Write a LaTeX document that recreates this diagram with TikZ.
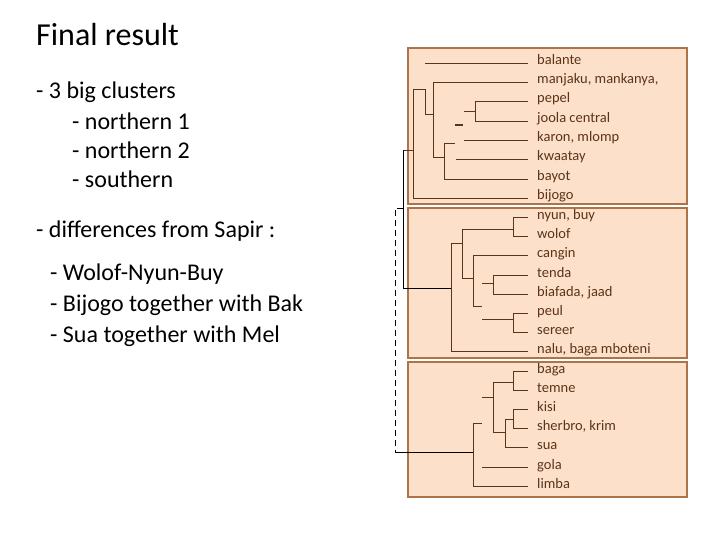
\documentclass[tikz,border=0pt]{standalone}
\usepackage{fontspec}
\setmainfont{Carlito}
\usetikzlibrary{positioning}
\definecolor{boxfill}{RGB}{252,224,202}
\definecolor{boxdraw}{RGB}{172,116,72}
\definecolor{treeink}{RGB}{92,52,24}
\begin{document}
\begin{tikzpicture}[x=1pt, y=-1pt,
    cluster/.style={draw=boxdraw, line width=2.2pt, fill=boxfill},
    branch/.style={draw=treeink, line width=0.6pt},
    leaf/.style={anchor=west, inner sep=0pt, text=treeink, text height=7pt, text depth=3pt, font=\fontsize{14.5}{17}\selectfont},
    bullet/.style={anchor=west, inner sep=0pt, font=\fontsize{24}{28}\selectfont}
]
    \useasboundingbox (0,0) rectangle (720,540);
    % clusters
    \path[cluster] (408,48) rectangle (687,204);
    \path[cluster] (408,208) rectangle (687,358);
    \path[cluster] (408,362) rectangle (687,497);
    % left text
    \node[anchor=west, inner sep=0pt, font=\fontsize{32}{36}\selectfont] (title) at (36,35) {Final result};
    \node[bullet] (t1) at (36,92) {- 3 big clusters};
    \node[bullet] (t2) at (72,121) {- northern 1};
    \node[bullet] (t3) at (72,150) {- northern 2};
    \node[bullet] (t4) at (72,179) {- southern};
    \node[bullet] (t5) at (36,231) {- differences from Sapir :};
    \node[bullet] (t6) at (50,274) {- Wolof-Nyun-Buy};
    \node[bullet] (t7) at (50,305) {- Bijogo together with Bak};
    \node[bullet] (t8) at (50,336) {- Sua together with Mel};
    % leaves
    \foreach \y/\x/\name/\txt in {
        63/425/balante/balante, 82/433/manjaku/{manjaku, mankanya,},
        101/475/pepel/pepel, 121/475/joola/joola central,
        140/464/karon/{karon, mlomp}, 159/456/kwaatay/kwaatay,
        179/444/bayot/bayot, 198/413/bijogo/bijogo,
        217/513/nyun/{nyun, buy}, 236/513/wolof/wolof,
        255/473/cangin/cangin, 275/493/tenda/tenda,
        294/493/biafada/{biafada, jaad}, 313/513/peul/peul,
        332/513/sereer/sereer, 351/451/nalu/{nalu, baga mboteni},
        371/513/baga/baga, 390/513/temne/temne,
        409/513/kisi/kisi, 428/513/sherbro/{sherbro, krim},
        447/505/sua/sua, 467/482/gola/gola, 486/473/limba/limba}
    {
        \node[leaf] (\name) at (537,\y) {\txt};
        \draw[branch] (\x,\y) -- (528,\y);
    }
    % northern 1
    \draw[branch] (475,101) -- (475,121) (464,111) -- (475,111);
    \draw[treeink, line width=1.5pt] (455,125) -- (463,125);
    \draw[branch] (433,82) -- (433,157) -- (444,157) (444,143) -- (444,179) (444,143) -- (455,143);
    \draw[branch] (425,89) -- (425,114) -- (433,114) (413,89) -- (425,89);
    \draw[branch] (413,89) -- (413,198) (403,150) -- (413,150);
    % northern 2
    \draw[branch] (513,217) -- (513,236) (462,229) -- (513,229);
    \draw[branch] (462,229) -- (462,278) -- (473,278) (451,243) -- (462,243);
    \draw[branch] (473,255) -- (473,306) -- (482,306);
    \draw[branch] (493,275) -- (493,294) (482,283) -- (493,283);
    \draw[branch] (513,313) -- (513,332) (482,319) -- (513,319);
    \draw[branch] (451,243) -- (451,351);
    % southern
    \draw[branch] (513,371) -- (513,390) (493,382) -- (513,382);
    \draw[branch] (513,409) -- (513,428) (505,419) -- (513,419) (505,419) -- (505,447);
    \draw[branch] (493,382) -- (493,432) -- (505,432) (482,397) -- (493,397);
    \draw[branch] (473,423) -- (473,486) (473,423) -- (482,423);
    % root
    \draw[black, line width=0.6pt] (403,150) -- (403,288) -- (451,288);
    \draw[black, line width=0.6pt, dash pattern=on 6pt off 4pt] (403,208) -- (395,208) -- (395,452);
    \draw[black, line width=0.6pt] (395,452) -- (473,452);
\end{tikzpicture}
\end{document}
